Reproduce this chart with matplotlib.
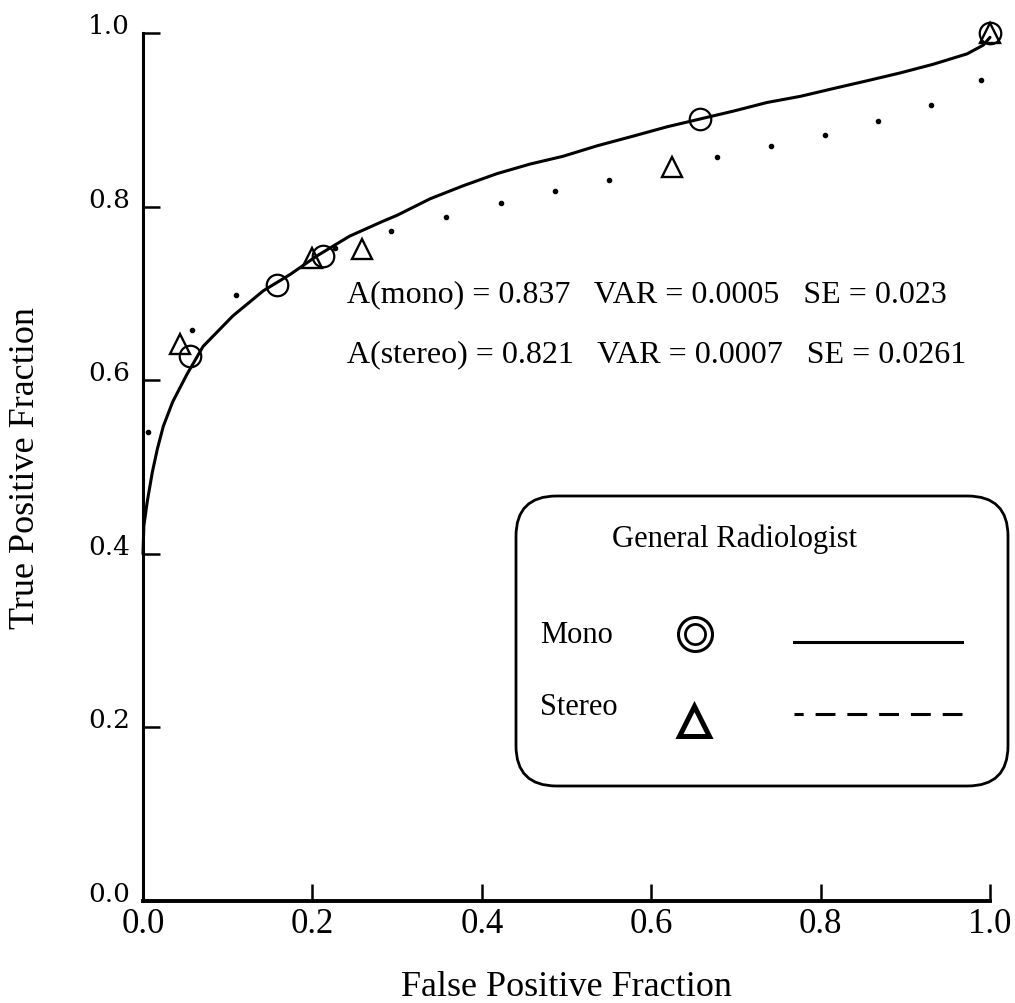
import matplotlib
matplotlib.use("Agg")
import matplotlib.pyplot as plt
from matplotlib.patches import FancyBboxPatch
from matplotlib.lines import Line2D

# ---- data ----
mono_fpf = [0.055, 0.158, 0.213, 0.658, 1.0]
mono_tpf = [0.628, 0.710, 0.743, 0.901, 1.0]

stereo_fpf = [0.044, 0.200, 0.259, 0.625, 1.0]
stereo_tpf = [0.642, 0.741, 0.751, 0.846, 1.0]

mono_fit_x = [0.0, 0.001, 0.005, 0.011, 0.017, 0.024, 0.035, 0.052, 0.071, 0.106,
              0.142, 0.174, 0.205, 0.244, 0.283, 0.300, 0.339, 0.378, 0.418,
              0.457, 0.496, 0.536, 0.578, 0.619, 0.658, 0.697, 0.737, 0.776,
              0.815, 0.855, 0.894, 0.933, 0.973, 0.992, 1.0]
mono_fit_y = [0.400, 0.432, 0.460, 0.494, 0.521, 0.547, 0.575, 0.607, 0.639, 0.674,
              0.703, 0.722, 0.743, 0.766, 0.783, 0.790, 0.809, 0.824, 0.838,
              0.849, 0.858, 0.870, 0.881, 0.892, 0.901, 0.910, 0.920, 0.927,
              0.936, 0.945, 0.954, 0.964, 0.976, 0.986, 0.995]

stereo_fit_x = [0.006, 0.058, 0.110, 0.227, 0.293, 0.358, 0.423, 0.486, 0.550,
                0.678, 0.741, 0.805, 0.868, 0.930, 0.989]
stereo_fit_y = [0.540, 0.658, 0.698, 0.752, 0.772, 0.788, 0.804, 0.818, 0.831,
                0.857, 0.870, 0.883, 0.899, 0.917, 0.946]

tick_vals = [0.0, 0.2, 0.4, 0.6, 0.8, 1.0]
tick_labels = ["0.0", "0.2", "0.4", "0.6", "0.8", "1.0"]

stats_lines = ["A(mono) = 0.837   VAR = 0.0005   SE = 0.023",
               "A(stereo) = 0.821   VAR = 0.0007   SE = 0.0261"]
legend_title = "General Radiologist"
series_names = ["Mono", "Stereo"]
x_title = "False Positive Fraction"
y_title = "True Positive Fraction"

W, H = 1015, 1004
fig = plt.figure(figsize=(W / 100, H / 100), dpi=100)
serif = ["Liberation Serif", "DejaVu Serif"]


def fx(px):
    return px / W


def fy(py):
    return 1 - py / H


ax = fig.add_axes([fx(143), fy(902), fx(990) - fx(143), fy(34) - fy(902)])
ax.set_xlim(0, 1)
ax.set_ylim(0, 1)
for s in ["top", "right"]:
    ax.spines[s].set_visible(False)
ax.spines["left"].set_linewidth(2.2)
ax.spines["bottom"].set_linewidth(2.8)
ax.spines["left"].set_capstyle("projecting")
ax.spines["bottom"].set_capstyle("projecting")

ax.set_xticks(tick_vals)
ax.set_xticklabels(tick_labels, fontfamily=serif, fontsize=25)
ax.set_yticks(tick_vals)
ax.set_yticklabels(tick_labels, fontfamily=["DejaVu Serif"], fontsize=19)
ax.tick_params(axis="x", direction="in", length=12.5, width=1.8, pad=4)
ax.tick_params(axis="y", direction="in", length=12.5, width=1.8, pad=9.5)
for lab in ax.get_yticklabels():
    lab.set_verticalalignment("baseline")

# axis titles
fig.text(fx(566), fy(996), x_title, fontfamily=serif, fontsize=26,
         ha="center", va="baseline")
fig.text(fx(26), fy(468), y_title, fontfamily=serif, fontsize=26,
         ha="center", va="center", rotation=90)

# fitted curves
ax.plot(mono_fit_x, mono_fit_y, color="black", lw=2.2, solid_capstyle="round",
        solid_joinstyle="round", clip_on=False, zorder=2)
ax.plot(stereo_fit_x, stereo_fit_y, linestyle="none", marker="o", markersize=3,
        color="black", clip_on=False, zorder=2)

# observed points
ax.plot(mono_fpf, mono_tpf, linestyle="none", marker="o", markersize=15.5,
        markerfacecolor="none", markeredgecolor="black", markeredgewidth=1.6,
        clip_on=False, zorder=3)
ax.plot(stereo_fpf, stereo_tpf, linestyle="none", marker="^", markersize=15,
        markerfacecolor="none", markeredgecolor="black", markeredgewidth=1.7,
        clip_on=False, zorder=3)

# statistics text
fig.text(fx(347), fy(302), stats_lines[0], fontfamily=serif, fontsize=23,
         ha="left", va="baseline")
fig.text(fx(347), fy(362), stats_lines[1], fontfamily=serif, fontsize=23,
         ha="left", va="baseline")

# legend box
box = FancyBboxPatch((fx(516), fy(787)), fx(1008) - fx(516), fy(497) - fy(787),
                     boxstyle="round,pad=0,rounding_size=0.04",
                     transform=fig.transFigure, facecolor="white",
                     edgecolor="black", linewidth=2.0, zorder=5)
fig.patches.append(box)
fig.text(fx(735), fy(547), legend_title, fontfamily=serif, fontsize=22,
         ha="center", va="baseline", zorder=6)
fig.text(fx(540), fy(643), series_names[0], fontfamily=serif, fontsize=22,
         ha="left", va="baseline", zorder=6)
fig.text(fx(540), fy(715), series_names[1], fontfamily=serif, fontsize=22,
         ha="left", va="baseline", zorder=6)
fig.lines.append(Line2D([fx(695)], [fy(635)], marker="o", markersize=24.5,
                        markerfacecolor="none", markeredgecolor="black",
                        markeredgewidth=2.2, transform=fig.transFigure, zorder=6))
fig.lines.append(Line2D([fx(695)], [fy(635)], marker="o", markersize=14.5,
                        markerfacecolor="none", markeredgecolor="black",
                        markeredgewidth=2.0, transform=fig.transFigure, zorder=6))
fig.lines.append(Line2D([fx(694)], [fy(722)], marker="^", markersize=21,
                        markerfacecolor="none", markeredgecolor="black",
                        markeredgewidth=3.6, transform=fig.transFigure, zorder=6))
fig.lines.append(Line2D([fx(794), fx(962)], [fy(643), fy(643)], color="black",
                        lw=2.2, transform=fig.transFigure, zorder=6))
fig.lines.append(Line2D([fx(794), fx(962)], [fy(715), fy(715)], color="black",
                        lw=2.2, linestyle=(3.5, (6.5, 3.9)),
                        transform=fig.transFigure, zorder=6))

fig.savefig("out.png", dpi=100, facecolor="white")
